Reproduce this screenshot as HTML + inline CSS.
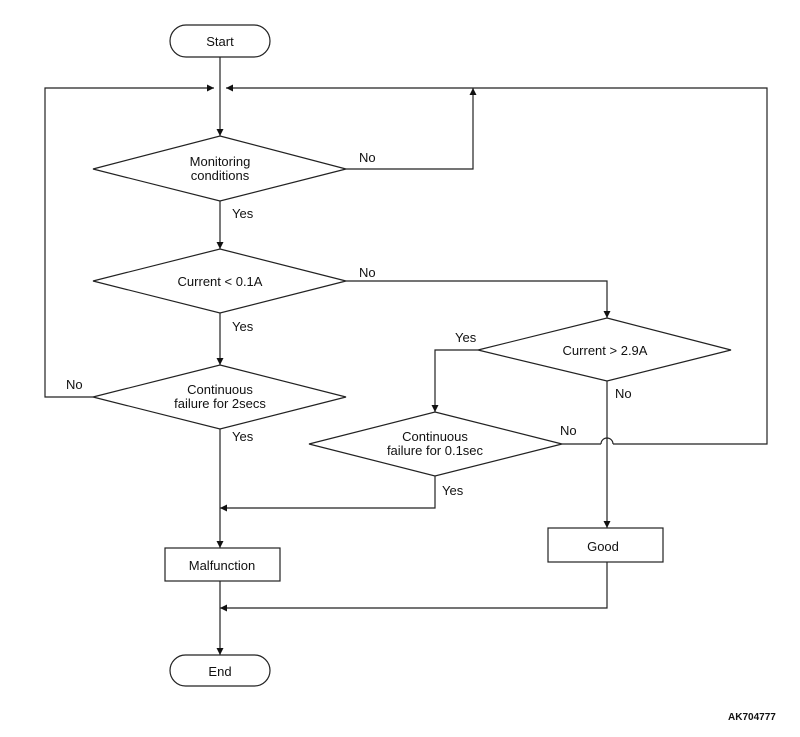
<!DOCTYPE html>
<html><head><meta charset="utf-8"><style>
body{margin:0;background:#fff}
svg text{font-family:"Liberation Sans",sans-serif;font-size:13px;fill:#111}
</style></head><body>
<svg width="800" height="732" viewBox="0 0 800 732" xmlns="http://www.w3.org/2000/svg">
<defs><marker id="a" viewBox="0 0 10 10" refX="10" refY="5" markerWidth="7" markerHeight="9" orient="auto" markerUnits="userSpaceOnUse"><path d="M0,0L10,5L0,10z" fill="#111"/></marker></defs>
<g stroke="#222" stroke-width="1.2" fill="none">
<rect x="170" y="25" width="100" height="32" rx="16" fill="#fff"/>
<line x1="220" y1="57" x2="220" y2="136" marker-end="url(#a)"/>
<polyline points="93,397 45,397 45,88 214,88" marker-end="url(#a)"/>
<polyline points="562,444 601,444"/>
<path d="M601,444 A6,6 0 0 1 613,444"/>
<polyline points="613,444 767,444 767,88 226,88" marker-end="url(#a)"/>
<polygon points="220,136 346,169 220,201 93,169" fill="#fff"/>
<polyline points="346,169 473,169 473,88" marker-end="url(#a)"/>
<line x1="220" y1="201" x2="220" y2="249" marker-end="url(#a)"/>
<polygon points="220,249 346,281 220,313 93,281" fill="#fff"/>
<polyline points="346,281 607,281 607,318" marker-end="url(#a)"/>
<line x1="220" y1="313" x2="220" y2="365" marker-end="url(#a)"/>
<polygon points="220,365 346,397 220,429 93,397" fill="#fff"/>
<polygon points="607,318 731,350 607,381 478,350" fill="#fff"/>
<polyline points="478,350 435,350 435,412" marker-end="url(#a)"/>
<polygon points="435,412 562,444 435,476 309,444" fill="#fff"/>
<line x1="607" y1="381" x2="607" y2="528" marker-end="url(#a)"/>
<polyline points="435,476 435,508 220,508" marker-end="url(#a)"/>
<line x1="220" y1="429" x2="220" y2="548" marker-end="url(#a)"/>
<rect x="165" y="548" width="115" height="33" fill="#fff"/>
<rect x="548" y="528" width="115" height="34" fill="#fff"/>
<polyline points="607,562 607,608 220,608" marker-end="url(#a)"/>
<line x1="220" y1="581" x2="220" y2="655" marker-end="url(#a)"/>
<rect x="170" y="655" width="100" height="31" rx="15.5" fill="#fff"/>
</g>
<g text-anchor="middle">
<text x="220" y="46">Start</text>
<text x="220" y="166">Monitoring</text><text x="220" y="180">conditions</text>
<text x="220" y="286">Current &lt; 0.1A</text>
<text x="220" y="394">Continuous</text><text x="220" y="408">failure for 2secs</text>
<text x="605" y="355">Current &gt; 2.9A</text>
<text x="435" y="441">Continuous</text><text x="435" y="455">failure for 0.1sec</text>
<text x="222" y="570">Malfunction</text>
<text x="603" y="551">Good</text>
<text x="220" y="676">End</text>
</g>
<text x="359" y="162">No</text>
<text x="232" y="218">Yes</text>
<text x="359" y="277">No</text>
<text x="232" y="331">Yes</text>
<text x="66" y="389">No</text>
<text x="232" y="441">Yes</text>
<text x="455" y="342">Yes</text>
<text x="615" y="398">No</text>
<text x="560" y="435">No</text>
<text x="442" y="495">Yes</text>
<text x="728" y="720" style="font-size:10px;font-weight:bold">AK704777</text>
</svg>
</body></html>
